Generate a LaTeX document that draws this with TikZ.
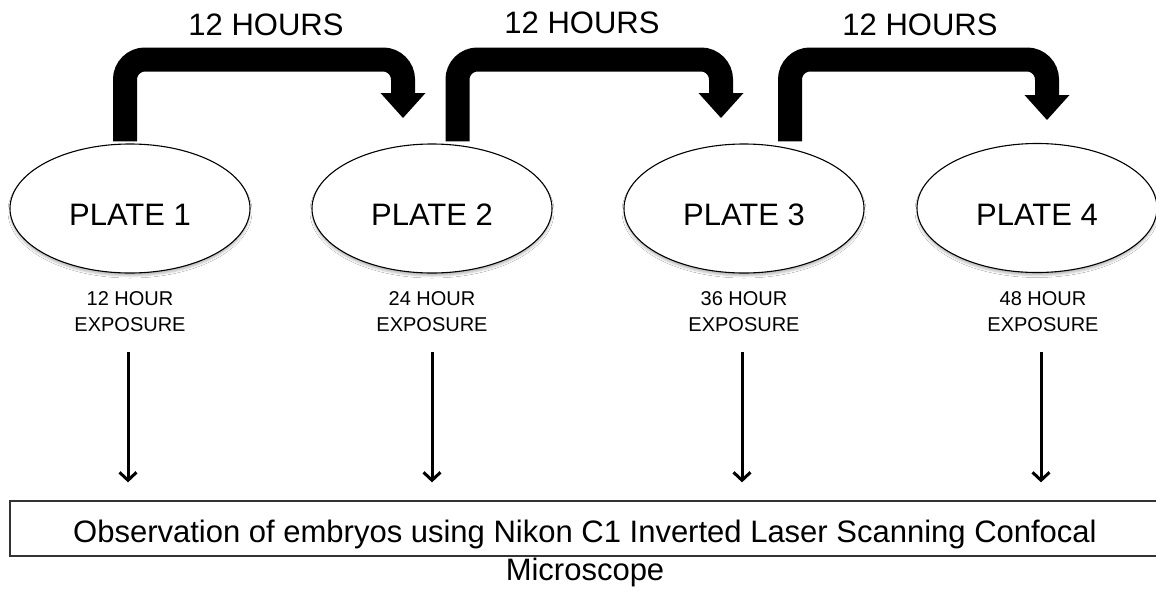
\documentclass[tikz,border=0pt]{standalone}
\usepackage{fontspec}
\setmainfont{Liberation Sans}
\usetikzlibrary{arrows.meta,shapes.geometric,shadows.blur}

\begin{document}
\begin{tikzpicture}[x=1pt,y=-1pt,
  plate/.style={ellipse,draw=black,line width=1.1pt,fill=white,
    minimum width=240pt,minimum height=129pt,inner sep=0pt,
    font=\fontsize{31}{37}\selectfont,text height=34pt,text depth=0pt,
    blur shadow={shadow xshift=0pt,shadow yshift=-3pt,
      shadow opacity=25,shadow blur radius=2pt}},
  hours/.style={anchor=base,inner sep=0pt,font=\fontsize{31}{37}\selectfont},
  expo/.style={align=center,inner sep=0pt,font=\fontsize{20}{26}\selectfont},
  obsbox/.style={draw=black!80,line width=1.3pt,rectangle,
    minimum width=1150pt,minimum height=55pt,inner sep=0pt},
  obstext/.style={align=center,inner sep=0pt,font=\fontsize{31}{38}\selectfont},
  bandline/.style={draw=black,line width=24pt,rounded corners=20pt},
  bandtip/.style={fill=black},
  droparrow/.style={draw=black,line width=3pt,
    -{Straight Barb[length=8pt,width=17pt,line width=3pt]}}
]
\useasboundingbox (0,0) rectangle (1156,592);
\clip (0,0) rectangle (1156,592);
\fill[white] (0,0) rectangle (1156,592);

% level of the horizontal part of the bent arrows
\coordinate (topline) at (0,59.5);

% start and tip of each bent arrow
\coordinate (b1s) at (125,146);
\coordinate (t1) at (403,118);
\coordinate (b2s) at (457.5,146);
\coordinate (t2) at (721,118);
\coordinate (b3s) at (790,146);
\coordinate (t3) at (1047,120);

% plates
\node[plate] (p1) at (130,208.5) {PLATE 1};
\node[plate] (p2) at (432,208.5) {PLATE 2};
\node[plate] (p3) at (744,208.5) {PLATE 3};
\node[plate] (p4) at (1037,208) {PLATE 4};

\foreach \s/\t in {b1s/t1,b2s/t2,b3s/t3}{
  \draw[bandline] ([yshift=2pt]\s |- p1.north) -- (\s |- topline) -- (\t |- topline) -- ([yshift=23pt]\t);
  \fill[bandtip] ([xshift=-22.5pt,yshift=25pt]\t) -- ([xshift=22.5pt,yshift=25pt]\t) -- (\t) -- cycle;
}

% interval labels
\node[hours] (h1) at (266,35) {12 HOURS};
\node[hours] (h2) at (582,33) {12 HOURS};
\node[hours] (h3) at (920,35) {12 HOURS};

% exposure labels
\node[expo] (e1) at (130,312) {12 HOUR\\EXPOSURE};
\node[expo] (e2) at (432,312) {24 HOUR\\EXPOSURE};
\node[expo] (e3) at (744,312) {36 HOUR\\EXPOSURE};
\node[expo] (e4) at (1043,312) {48 HOUR\\EXPOSURE};

% observation step
\node[obsbox] (obs) at (585,528.5) {};
\node[obstext] (obstxt) at (585,553)
  {Observation of embryos using Nikon C1 Inverted Laser Scanning Confocal\\Microscope};

% one drop arrow per plate, from its exposure label down to the box
\draw[droparrow] ([xshift=-2pt,yshift=-20pt]e1.south) -- ([xshift=-2pt,yshift=18pt]e1.south |- obs.north);
\draw[droparrow] ([yshift=-20pt]e2.south) -- ([yshift=18pt]e2.south |- obs.north);
\draw[droparrow] ([xshift=-2pt,yshift=-20pt]e3.south) -- ([xshift=-2pt,yshift=18pt]e3.south |- obs.north);
\draw[droparrow] ([xshift=-2pt,yshift=-20pt]e4.south) -- ([xshift=-2pt,yshift=18pt]e4.south |- obs.north);
\end{tikzpicture}
\end{document}
